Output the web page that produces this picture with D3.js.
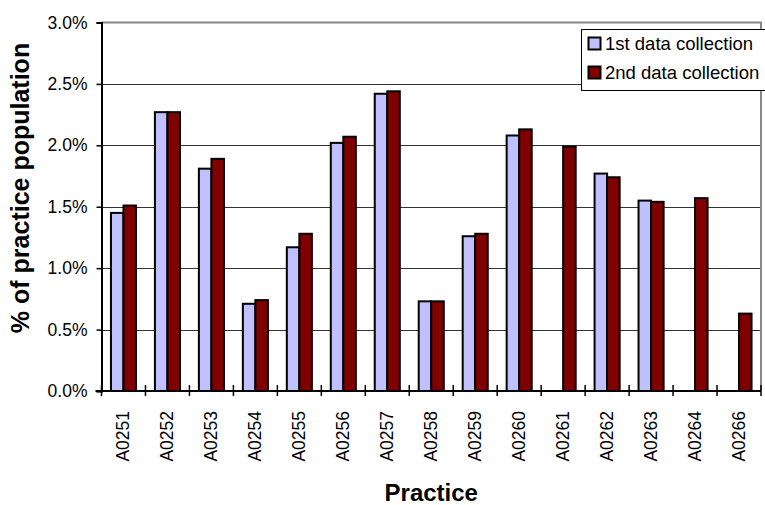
<!DOCTYPE html>
<html>
<head>
<meta charset="utf-8">
<script src="https://cdnjs.cloudflare.com/ajax/libs/d3/7.8.5/d3.min.js"></script>
<style>
  html, body { margin: 0; padding: 0; background: #fff; }
  svg { display: block; font-family: Arial, "Liberation Sans", sans-serif; }
</style>
</head>
<body>
<svg id="chart" width="765" height="505"></svg>
<script>
// Practice codes along the x axis
const practices = ["A0251","A0252","A0253","A0254","A0255","A0256","A0257","A0258",
                   "A0259","A0260","A0261","A0262","A0263","A0264","A0266"];
// Share of practice population (%) for each data collection; null = no data
const firstCollection  = [1.45, 2.27, 1.81, 0.71, 1.17, 2.02, 2.42, 0.73, 1.26, 2.08, null, 1.77, 1.55, null, null];
const secondCollection = [1.51, 2.27, 1.89, 0.74, 1.28, 2.07, 2.44, 0.73, 1.28, 2.13, 1.99, 1.74, 1.54, 1.57, 0.63];
const seriesNames = ["1st data collection", "2nd data collection"];
const seriesColors = ["#C0C0FF", "#800000"];
const yTicks = [0, 0.5, 1.0, 1.5, 2.0, 2.5, 3.0];

const svg = d3.select("#chart");
const plot = { left: 101.5, right: 761, top: 22.5, bottom: 391 };

const x0 = d3.scaleBand().domain(practices).range([plot.left, plot.right]).padding(0);
const groupW = x0.step() * 0.57;
const x1 = d3.scaleBand().domain([0, 1])
  .range([(x0.step() - groupW) / 2, (x0.step() + groupW) / 2]).padding(0);
const y = d3.scaleLinear().domain([0, 3.0]).range([plot.bottom, plot.top]);

// horizontal gridlines
svg.append("g").selectAll("line").data(yTicks.filter(t => t > 0 && t < 3))
  .join("line")
  .attr("x1", plot.left).attr("x2", plot.right)
  .attr("y1", d => Math.round(y(d)) + 0.5).attr("y2", d => Math.round(y(d)) + 0.5)
  .attr("stroke", "#333").attr("stroke-width", 1);

// plot frame (top and right in grey)
svg.append("path")
  .attr("d", `M${plot.left},${plot.top}H${plot.right}V${plot.bottom}`)
  .attr("fill", "none").attr("stroke", "#888").attr("stroke-width", 2);

// bars
const rows = practices.map((p, i) => ({ p, vals: [firstCollection[i], secondCollection[i]] }));
const groups = svg.append("g").selectAll("g").data(rows).join("g")
  .attr("transform", d => `translate(${x0(d.p)},0)`);
groups.selectAll("rect")
  .data(d => d.vals.map((v, k) => ({ v, k })).filter(e => e.v !== null))
  .join("rect")
  .attr("x", e => x1(e.k))
  .attr("width", x1.bandwidth())
  .attr("y", e => y(e.v))
  .attr("height", e => y(0) - y(e.v))
  .attr("fill", e => seriesColors[e.k])
  .attr("stroke", "#000").attr("stroke-width", 2);

// y axis
const yAxis = d3.axisLeft(y).tickValues(yTicks).tickFormat(d => d.toFixed(1) + "%")
  .tickSize(5).tickPadding(9);
const gy = svg.append("g").attr("transform", `translate(${plot.left},0)`).call(yAxis);
gy.attr("font-size", null).attr("font-family", null);
gy.select(".domain").attr("stroke", "#000").attr("stroke-width", 2);
gy.selectAll(".tick line").attr("stroke", "#000").attr("stroke-width", 1.5);
gy.selectAll(".tick text").style("font-size", "17.5px").attr("fill", "#000");

// x axis with cross ticks at category boundaries
const gx = svg.append("g");
gx.append("line").attr("x1", plot.left - 6).attr("x2", plot.right)
  .attr("y1", plot.bottom).attr("y2", plot.bottom)
  .attr("stroke", "#000").attr("stroke-width", 2);
const bounds = practices.map(p => x0(p)).concat([plot.right]);
gx.selectAll("line.tk").data(bounds).join("line").attr("class", "tk")
  .attr("x1", d => d).attr("x2", d => d)
  .attr("y1", plot.bottom - 6).attr("y2", plot.bottom + 5)
  .attr("stroke", "#000").attr("stroke-width", 1.5);
gx.selectAll("text").data(practices).join("text")
  .attr("transform", p => `translate(${x0(p) + x0.bandwidth() / 2 + 6},${plot.bottom + 20}) rotate(-90)`)
  .attr("text-anchor", "end")
  .style("font-size", "17.5px").attr("fill", "#000")
  .text(p => p);

// axis titles
svg.append("text")
  .attr("transform", `translate(29,188) rotate(-90)`)
  .attr("text-anchor", "middle").attr("font-weight", "bold").style("font-size", "25px")
  .text("% of practice population");
svg.append("text")
  .attr("x", (plot.left + plot.right) / 2).attr("y", 501)
  .attr("text-anchor", "middle").attr("font-weight", "bold").style("font-size", "24px")
  .text("Practice");

// legend
const lg = svg.append("g").attr("transform", "translate(581,29)");
lg.append("rect").attr("x", 0.5).attr("y", 0.5).attr("width", 190).attr("height", 61)
  .attr("fill", "#fff").attr("stroke", "#000").attr("stroke-width", 1);
const li = lg.selectAll("g.item").data(seriesNames).join("g").attr("class", "item")
  .attr("transform", (d, i) => `translate(7,${8 + i * 29})`);
li.append("rect").attr("width", 12).attr("height", 12).attr("x", 0.5).attr("y", 0.5)
  .attr("fill", (d, i) => seriesColors[i]).attr("stroke", "#000").attr("stroke-width", 2);
li.append("text").attr("x", 17).attr("y", 13).style("font-size", "18.5px").attr("fill", "#000")
  .text(d => d);
</script>
</body>
</html>
